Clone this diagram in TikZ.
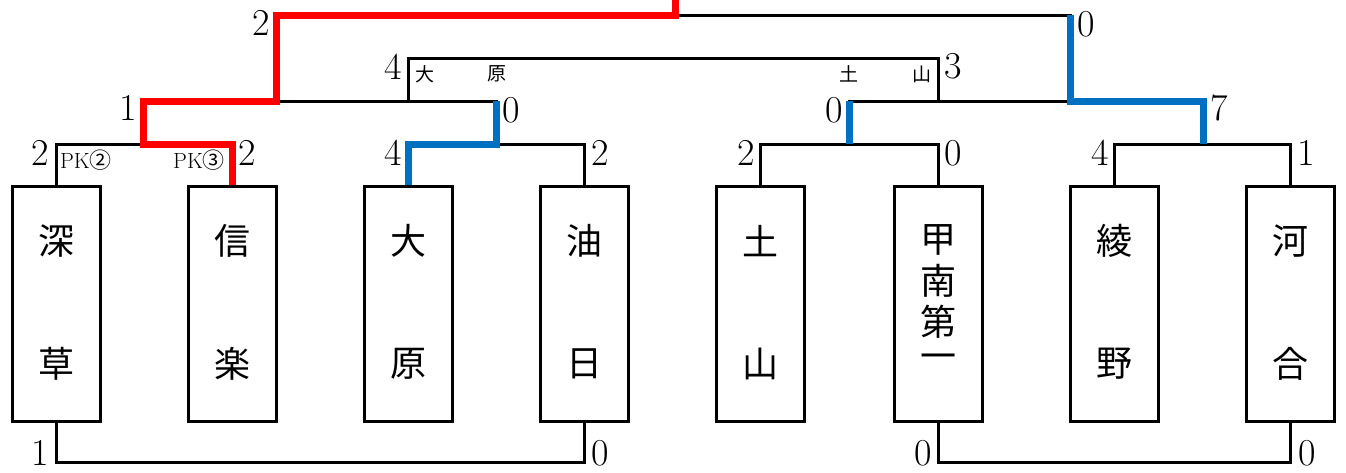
\documentclass[tikz,border=0pt]{standalone}
\usepackage{fontspec}
\newfontfamily\jp{Noto Sans CJK JP}
\usetikzlibrary{positioning}
\definecolor{winred}{RGB}{255,0,0}
\definecolor{winblue}{RGB}{0,112,192}
\tikzset{
    team/.style={draw, line width=3pt, minimum width=88pt, minimum height=235pt, inner sep=0pt},
    line/.style={line width=3pt},
    redway/.style={line width=7pt, winred},
    blueway/.style={line width=7pt, winblue},
    score/.style={font=\fontsize{38}{38}\selectfont, inner sep=0pt},
    pk/.style={font=\fontsize{22}{22}\selectfont, inner sep=0pt},
    kanji/.style={font=\jp\fontsize{36}{36}\selectfont, inner sep=0pt},
    tiny/.style={font=\jp\fontsize{19}{19}\selectfont, inner sep=0pt}
}

\begin{document}
\begin{tikzpicture}[x=1pt, y=-1pt]
                \useasboundingbox (0,0) rectangle (1346,472);

                % teams
                \node[team] (fuka) at (56,303.5) {};
                \node[team] (shiga) at (232,303.5) {};
                \node[team] (ohara) at (408,303.5) {};
                \node[team] (yuhi) at (584,303.5) {};
                \node[team] (tsuchi) at (760,303.5) {};
                \node[team] (konan) at (938,303.5) {};
                \node[team] (ayano) at (1114,303.5) {};
                \node[team] (kawai) at (1290,303.5) {};

                \node[kanji] (fuka1) at (56,241) {深};
                \node[kanji] (fuka2) at (56,364) {草};
                \node[kanji] (shiga1) at (232,241) {信};
                \node[kanji] (shiga2) at (232,364) {楽};
                \node[kanji] (ohara1) at (408,241) {大};
                \node[kanji] (ohara2) at (408,364) {原};
                \node[kanji] (yuhi1) at (584,241) {油};
                \node[kanji] (yuhi2) at (584,364) {日};
                \node[kanji] (tsuchi1) at (760,241) {土};
                \node[kanji] (tsuchi2) at (760,364) {山};
                \node[kanji] (konan1) at (938,240) {甲};
                \node[kanji] (konan2) at (938,281) {南};
                \node[kanji] (konan3) at (938,322) {第};
                \node[kanji] (konan4) at (938,362) {一};
                \node[kanji] (ayano1) at (1114,241) {綾};
                \node[kanji] (ayano2) at (1114,364) {野};
                \node[kanji] (kawai1) at (1290,241) {河};
                \node[kanji] (kawai2) at (1290,364) {合};

                % junctions
                \coordinate (m1) at (143,144);
                \coordinate (m2) at (496,144);
                \coordinate (m3) at (849,144);
                \coordinate (m4) at (1203,144);
                \coordinate (s1) at (276,101);
                \coordinate (s2) at (1070,101);
                \coordinate (top) at (675,15);
                \coordinate (champ) at (675,0);

                % first round
                \draw[line] (fuka.north) -- (fuka.north |- m1) -- (shiga.north |- m1) -- (shiga.north);
                \draw[line] (ohara.north) -- (ohara.north |- m2) -- (yuhi.north |- m2) -- (yuhi.north);
                \draw[line] (tsuchi.north) -- (tsuchi.north |- m3) -- (konan.north |- m3) -- (konan.north);
                \draw[line] (ayano.north) -- (ayano.north |- m4) -- (kawai.north |- m4) -- (kawai.north);

                % second round
                \draw[line] (m1) -- (m1 |- s1) -- (m2 |- s1) -- (m2);
                \draw[line] (m3) -- (m3 |- s2) -- (m4 |- s2) -- (m4);
                \draw[line] (ohara.north |- s1) -- (408,58) -- (938,58) -- (konan.north |- s2);

                % final
                \draw[line] (s1) -- (s1 |- top) -- (s2 |- top) -- (s2);

                % play-off for third
                \draw[line] (fuka.south) -- (56,462) -- (584,462) -- (yuhi.south);
                \draw[line] (konan.south) -- (938,462) -- (1290,462) -- (kawai.south);

                % winners
                \draw[redway] (shiga.north) -- (shiga.north |- m1) -- (m1) -- (m1 |- s1) -- (s1) -- (s1 |- top) -- (top) -- (champ);
                \draw[blueway] (ohara.north) -- (ohara.north |- m2) -- (m2) -- (m2 |- s1);
                \draw[blueway] (m3) -- (m3 |- s2);
                \draw[blueway] (m4) -- (m4 |- s2) -- (s2) -- (s2 |- top);

                % scores
                \node[score] (sc1) at (40,153) {2};
                \node[score] (sc2) at (247,153) {2};
                \node[score] (sc3) at (393,153) {4};
                \node[score] (sc4) at (600,153) {2};
                \node[score] (sc5) at (746,153) {2};
                \node[score] (sc6) at (953,153) {0};
                \node[score] (sc7) at (1100,153) {4};
                \node[score] (sc8) at (1306,153) {1};
                \node[pk] (pk1) at (86,160) {PK{\jp ②}};
                \node[pk] (pk2) at (199,160) {PK{\jp ③}};

                \node[score] (sd1) at (128,108) {1};
                \node[score] (sd2) at (511,110) {0};
                \node[score] (sd3) at (834,110) {0};
                \node[score] (sd4) at (1219,108) {7};

                \node[score] (re1) at (393,67) {4};
                \node[score] (re2) at (953,66) {3};
                \node[tiny] (rn1) at (425,74) {大};
                \node[tiny] (rn2) at (497,74) {原};
                \node[tiny] (rn3) at (849,74) {土};
                \node[tiny] (rn4) at (922,74) {山};

                \node[score] (fi1) at (261,23) {2};
                \node[score] (fi2) at (1086,24) {0};

                \node[score] (th1) at (40,453) {1};
                \node[score] (th2) at (600,453) {0};
                \node[score] (th3) at (923,453) {0};
                \node[score] (th4) at (1307,453) {0};
\end{tikzpicture}
\end{document}
